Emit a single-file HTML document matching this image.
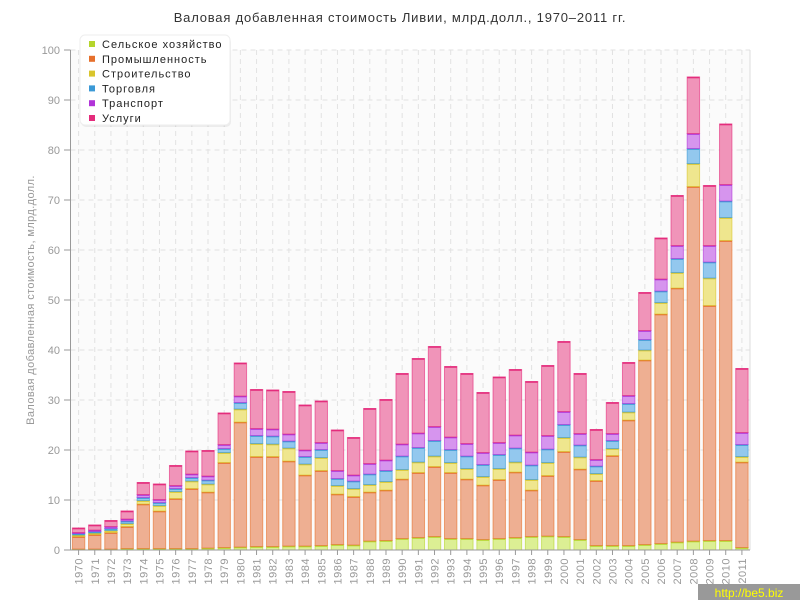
<!DOCTYPE html>
<html><head><meta charset="utf-8"><style>
body{margin:0;background:#fff;font-family:"Liberation Sans",sans-serif}
svg{display:block}
</style></head><body>
<svg id="s" width="800" height="600" xmlns="http://www.w3.org/2000/svg" font-family="Liberation Sans, sans-serif"></svg>
<script>
const D=[
[0.2,2.5,0.3,0.3,0.2,0.9],[0.2,2.9,0.3,0.3,0.3,1.0],[0.2,3.3,0.4,0.4,0.4,1.2],[0.3,4.4,0.6,0.5,0.4,1.6],
[0.3,8.9,0.7,0.6,0.6,2.4],[0.3,7.5,1.1,0.6,0.6,3.1],[0.3,10.0,1.4,0.6,0.6,4.0],[0.3,12.0,1.5,0.7,0.7,4.6],
[0.4,11.2,1.6,0.8,0.8,5.1],[0.5,17.0,2.0,0.8,0.8,6.3],[0.6,25.0,2.6,1.3,1.3,6.6],[0.7,18.0,2.6,1.6,1.4,7.8],
[0.7,18.0,2.5,1.6,1.4,7.8],[0.8,17.0,2.6,1.4,1.4,8.5],[0.8,14.2,2.2,1.5,1.3,9.0],[0.9,15.0,2.6,1.6,1.4,8.3],
[1.1,10.1,1.7,1.4,1.6,8.1],[1.0,9.7,1.6,1.5,1.2,7.5],[1.8,9.8,1.5,2.1,2.1,11.0],[1.9,10.1,1.7,2.2,2.1,12.1],
[2.3,11.9,1.9,2.7,2.4,14.1],[2.5,13.0,2.1,2.9,2.9,14.9],[2.7,14.0,2.1,3.1,2.8,16.0],[2.3,13.2,2.0,2.6,2.5,14.1],
[2.3,11.9,2.1,2.5,2.5,14.0],[2.1,10.9,1.7,2.4,2.4,12.0],[2.3,11.8,2.2,2.8,2.4,13.1],[2.5,13.1,2.0,2.8,2.6,13.1],
[2.7,9.3,2.1,2.9,2.6,14.1],[2.8,12.1,2.6,2.7,2.7,14.0],[2.7,17.0,2.8,2.6,2.6,14.0],[2.1,14.1,2.4,2.4,2.3,12.0],
[0.9,13.0,1.4,1.5,1.3,6.0],[0.9,18.0,1.4,1.6,1.4,6.2],[0.9,25.1,1.6,1.7,1.6,6.6],[1.1,36.9,2.0,2.1,1.8,7.6],
[1.3,45.9,2.3,2.3,2.4,8.2],[1.6,50.8,3.1,2.8,2.6,10.0],[1.8,70.9,4.6,3.0,3.0,11.3],[1.9,47.0,5.5,3.2,3.3,12.0],
[1.9,60.0,4.6,3.3,3.3,12.1],[0.5,17.1,1.1,2.4,2.4,12.8]];
const F=["#dcef94","#eeaf92","#efe68e","#93c8ee","#d695ee","#f094b9"];
const B=["#b5d52c","#e6702c","#d9c52c","#3b99d6","#b134d8","#e42c7c"];
const N=["Сельское хозяйство","Промышленность","Строительство","Торговля","Транспорт","Услуги"];
let h='';
const L=70.5,R=750,W=(R-L)/42;
h+=`<rect x="${L}" y="50" width="${R-L}" height="500" fill="#fbfbfb"/>`;
for(let i=0;i<42;i++){let c=L+W*(i+0.5);h+=`<line x1="${c}" y1="50" x2="${c}" y2="550" stroke="#e2e2e2" stroke-dasharray="5,4"/>`;}
for(let v=10;v<=100;v+=10){let y=550-5*v;h+=`<line x1="${L}" y1="${y}" x2="${R}" y2="${y}" stroke="#e2e2e2" stroke-dasharray="5,4"/>`;}
for(let v=0;v<=100;v+=10){let y=550-5*v;h+=`<line x1="64" y1="${y}" x2="${L}" y2="${y}" stroke="#999"/><text x="60" y="${y+4}" font-size="11" fill="#999" text-anchor="end">${v}</text>`;}
h+=`<line x1="${R}" y1="50" x2="${R}" y2="550" stroke="#ddd"/>`;
D.forEach((d,i)=>{let c=L+W*(i+0.5),x=c-6.2,w=12.4,cum=0;
 d.forEach((v,k)=>{let y0=550-5*cum;cum+=v;let y1=550-5*cum;
  h+=`<rect x="${x}" y="${y1}" width="${w}" height="${y0-y1}" fill="${F[k]}" stroke="${B[k]}" stroke-opacity="0.6" stroke-width="1"/>`;
  h+=`<line x1="${x}" y1="${y1+0.5}" x2="${x+w}" y2="${y1+0.5}" stroke="${B[k]}" stroke-width="1.6"/>`;});
 h+=`<line x1="${c}" y1="550" x2="${c}" y2="555" stroke="#999"/>`;
 h+=`<text transform="translate(${c+4},${558}) rotate(-90)" font-size="11" fill="#999" text-anchor="end" letter-spacing="0.5">${1970+i}</text>`;});
h+=`<line x1="${L}" y1="50" x2="${L}" y2="550" stroke="#999"/><line x1="${L}" y1="550" x2="${R}" y2="550" stroke="#999"/>`;
h+=`<text x="400" y="22" font-size="13" fill="#333" text-anchor="middle" letter-spacing="0.8">Валовая добавленная стоимость Ливии, млрд.долл., 1970–2011 гг.</text>`;
h+=`<text transform="translate(34,300) rotate(-90)" font-size="11" fill="#999" text-anchor="middle" letter-spacing="0.4">Валовая добавленная стоимость, млрд.долл.</text>`;
h+=`<rect x="80" y="36" width="150" height="90" rx="5" fill="#000" opacity="0.06" transform="translate(1,1)"/><rect x="80" y="35" width="150" height="90" rx="5" fill="#fff" stroke="#eee"/>`;
N.forEach((n,k)=>{let y=44+k*14.8;h+=`<rect x="89" y="${y-3}" width="6" height="6" fill="${B[k]}"/><text x="102" y="${y+4}" font-size="11" fill="#222" letter-spacing="1">${n}</text>`;});
h+=`<rect x="698" y="584" width="102" height="16" fill="#999"/><text x="749" y="597" font-size="12" fill="#ff0" text-anchor="middle">http://be5.biz</text>`;
document.getElementById('s').innerHTML=h;
</script>
</body></html>
